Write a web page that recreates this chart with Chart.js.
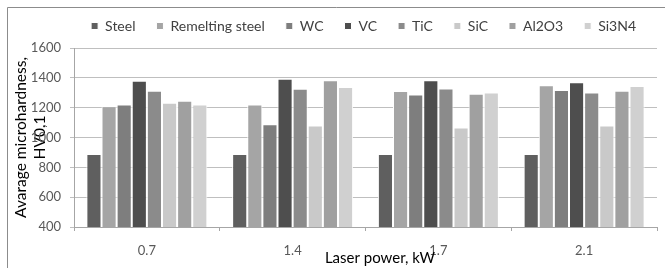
<!DOCTYPE html>
<html>
<head>
<meta charset="utf-8">
<script src="https://cdn.jsdelivr.net/npm/chart.js@4"></script>
<style>
  html, body { margin: 0; padding: 0; background: #fff; }
  #wrap { width: 665px; height: 268px; }
</style>
</head>
<body>
<div id="wrap"><canvas id="hardnessChart" width="665" height="268"></canvas></div>
<script>
const powers = ['0.7', '1.4', '1.7', '2.1'];
const materials = ['Steel', 'Remelting steel', 'WC', 'VC', 'TiC', 'SiC', 'Al2O3', 'Si3N4'];

const steel = [890, 890, 890, 890];
const remeltingSteel = [1210, 1222, 1312, 1350];
const wc = [1221, 1089, 1289, 1318];
const vc = [1380, 1394, 1383, 1370];
const tic = [1314, 1327, 1329, 1302];
const sic = [1233, 1080, 1067, 1080];
const al2o3 = [1246, 1383, 1294, 1314];
const si3n4 = [1221, 1339, 1302, 1345];

const greys = ['#5f5f5f', '#a5a5a5', '#7e7e7e', '#4e4e4e', '#8b8b8b', '#c9c9c9', '#a0a0a0', '#d0d0d0'];

document.addEventListener('DOMContentLoaded', () => {
    const ctx = document.getElementById('hardnessChart').getContext('2d');
    const series = [steel, remeltingSteel, wc, vc, tic, sic, al2o3, si3n4];

    // outer frame like the office chart border, plus the x title
    const framePlugin = {
        id: 'frame',
        afterLayout(chart) {
            // pull the legend row up a bit, it sits higher than chart.js puts it
            chart.legend.top -= 5;
            chart.legend.bottom -= 5;
        },
        beforeDraw(chart) {
            const c = chart.ctx;
            c.save();
            c.fillStyle = '#fff';
            c.fillRect(0, 0, chart.width, chart.height);
            c.strokeStyle = '#8c8c8c';
            c.lineWidth = 1;
            c.beginPath();
            c.moveTo(7.5, chart.height);
            c.lineTo(7.5, 7.5);
            c.lineTo(chart.width, 7.5);
            c.stroke();
            c.restore();
        },
        afterDraw(chart) {
            const c = chart.ctx;
            c.save();
            c.fillStyle = '#000';
            c.font = '15px Lato';
            c.textAlign = 'center';
            c.textBaseline = 'middle';
            c.fillText('Laser power, kW', 380, 258);
            c.restore();
        }
    };

    Chart.defaults.font.family = 'Lato';

    new Chart(ctx, {
        type: 'bar',
        data: {
            labels: powers,
            datasets: series.map((values, i) => ({
                label: materials[i],
                data: values,
                backgroundColor: greys[i],
                borderColor: '#ffffff',
                borderWidth: 1,
                categoryPercentage: 0.83,
                barPercentage: 1
            }))
        },
        options: {
            responsive: false,
            animation: false,
            layout: { padding: { left: 8, right: 8, top: 3, bottom: 0 } },
            plugins: {
                legend: {
                    position: 'top',
                    align: 'end',
                    labels: {
                        boxWidth: 7,
                        boxHeight: 7,
                        padding: 21,
                        color: '#404040',
                        font: { size: 14 }
                    }
                },
                tooltip: { enabled: false }
            },
            scales: {
                y: {
                    min: 400,
                    max: 1600,
                    afterFit(scale) { scale.width = 66; },
                    ticks: {
                        stepSize: 200,
                        padding: 9,
                        color: '#595959',
                        font: { size: 13 },
                        callback: v => String(v)
                    },
                    grid: {
                        color: '#bfbfbf',
                        tickLength: 4,
                        drawTicks: true
                    },
                    border: { color: '#a6a6a6' },
                    title: {
                        display: true,
                        text: ['Avarage microhardness,', 'HV0,1'],
                        color: '#000',
                        font: { size: 15.5 },
                        padding: { top: 4, bottom: 0 }
                    }
                },
                x: {
                    afterFit(scale) { scale.height = 41; },
                    ticks: {
                        padding: 12,
                        color: '#595959',
                        font: { size: 13 }
                    },
                    grid: {
                        offset: true,
                        drawOnChartArea: false,
                        tickLength: 4,
                        color: '#a6a6a6'
                    },
                    border: { color: '#a6a6a6' }
                }
            }
        },
        plugins: [framePlugin]
    });
});
</script>
</body>
</html>
